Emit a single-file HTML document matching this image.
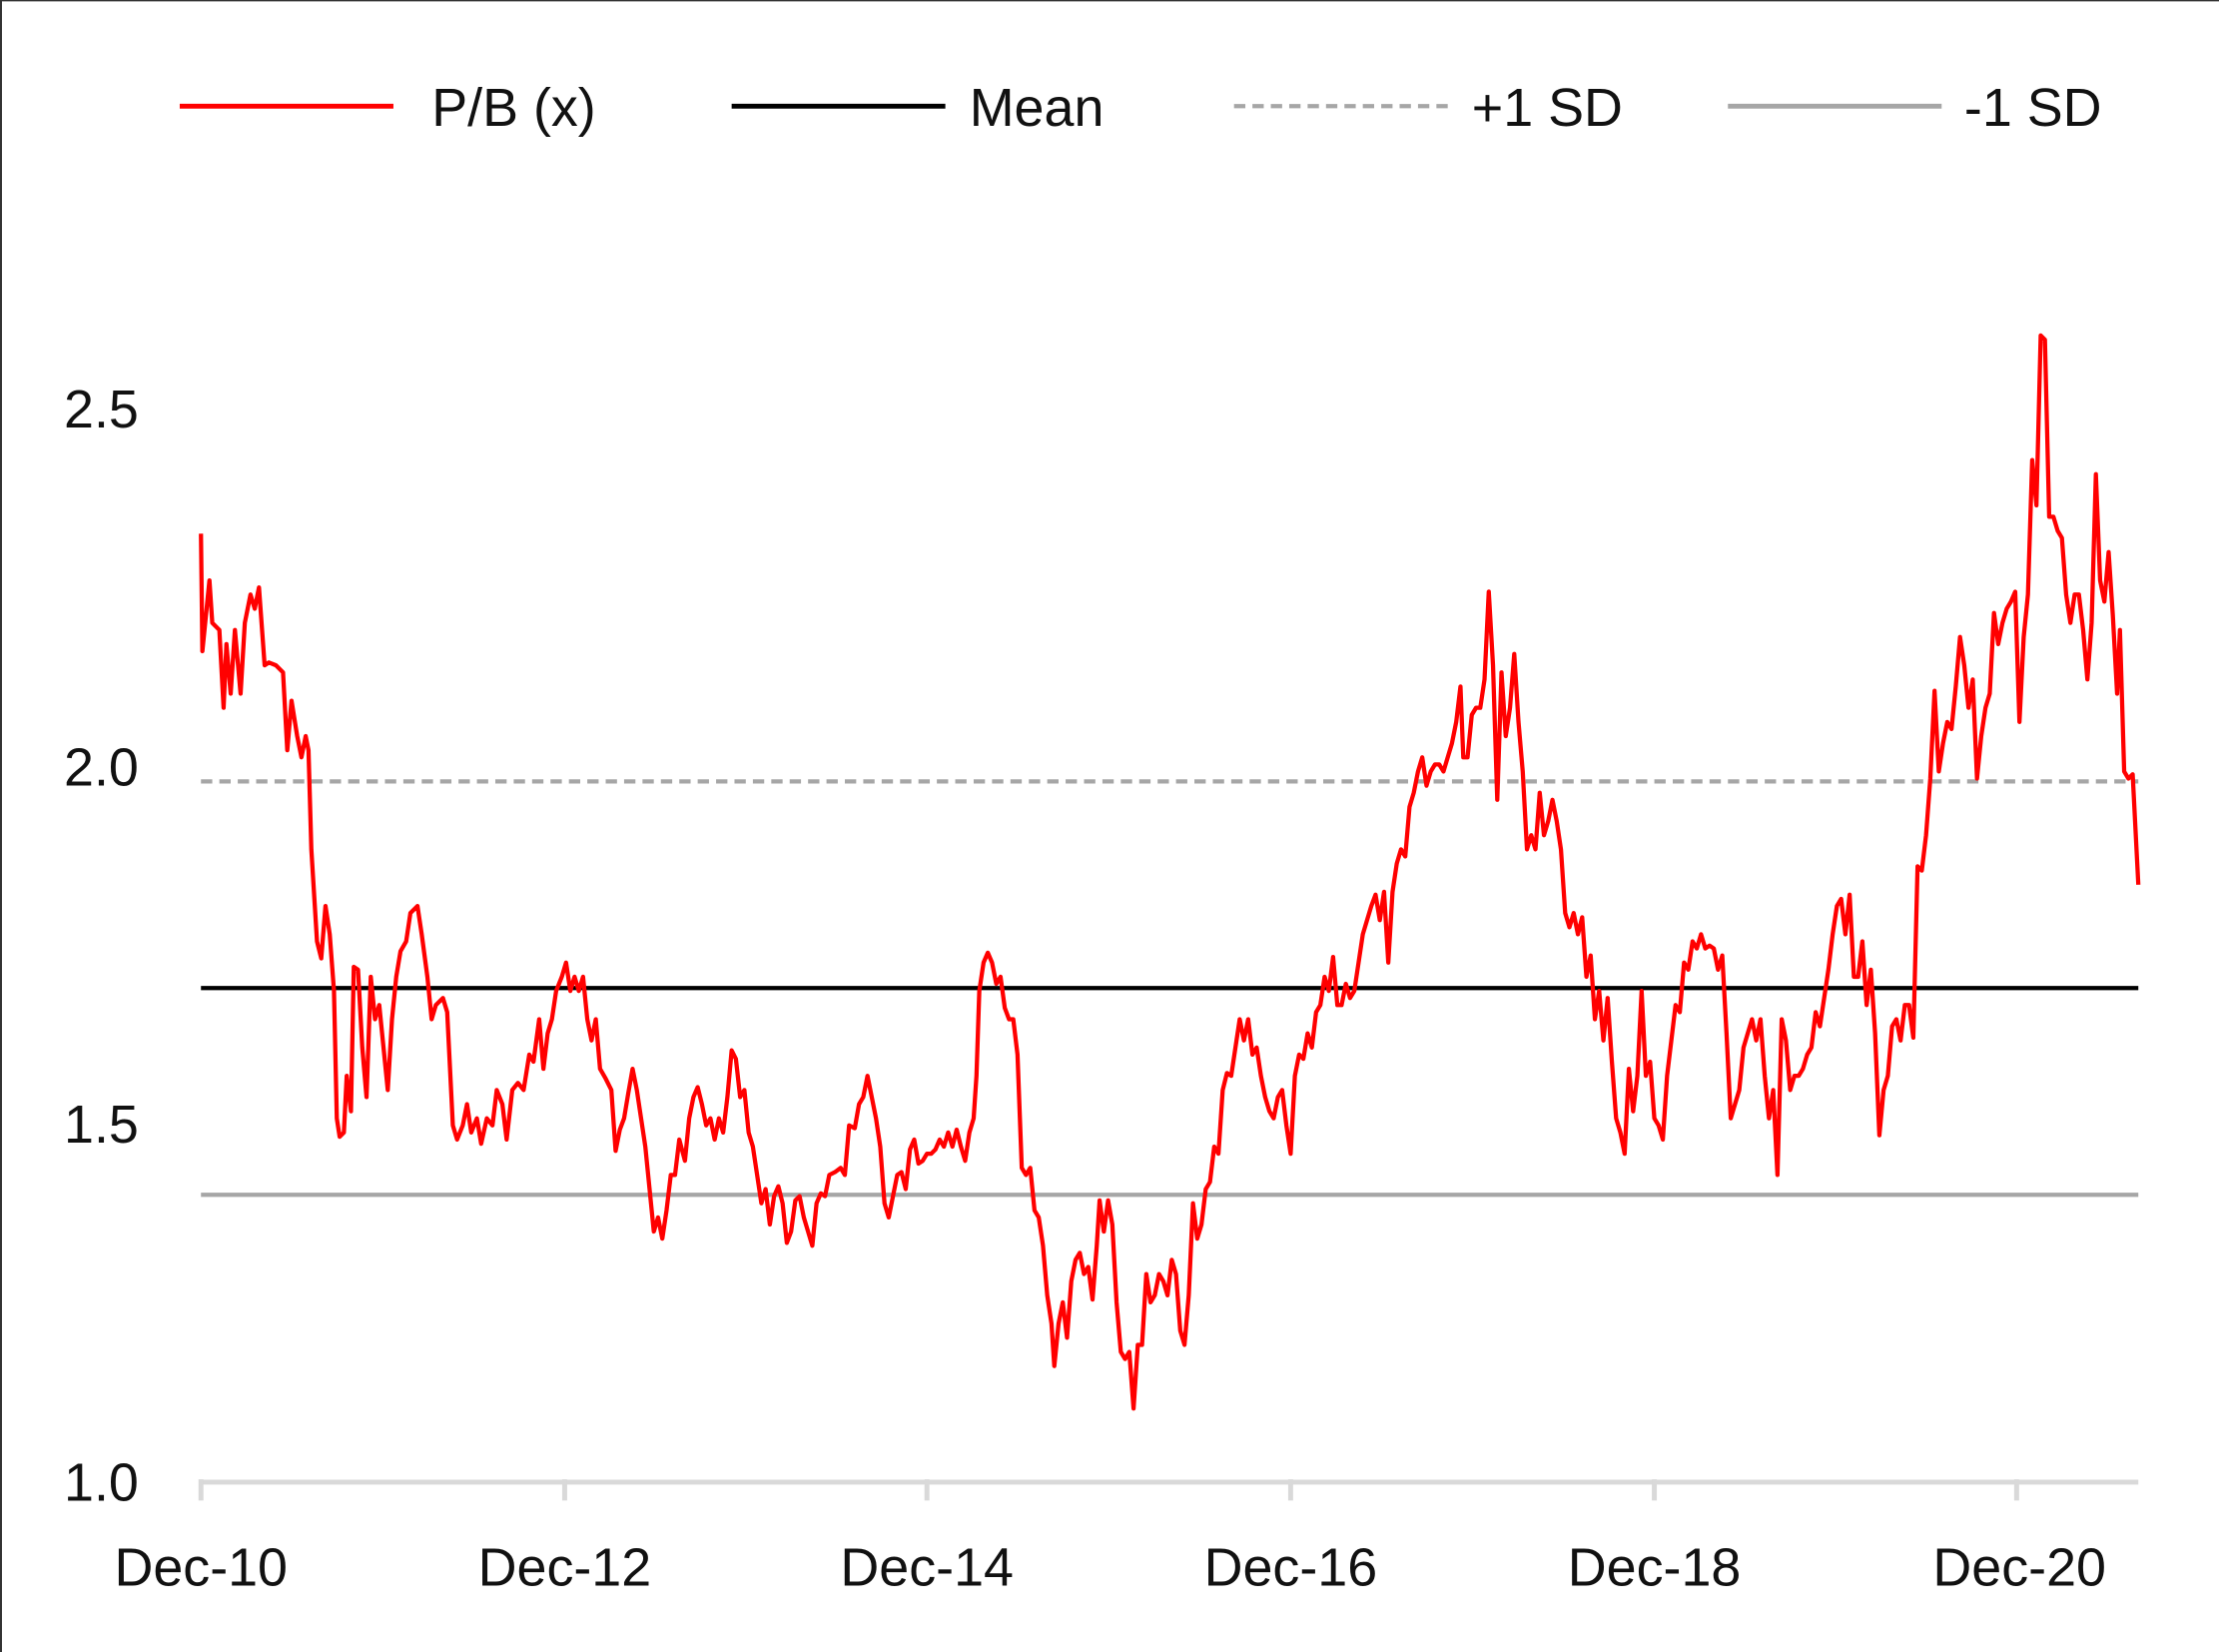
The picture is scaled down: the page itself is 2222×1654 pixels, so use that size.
<!DOCTYPE html>
<html><head><meta charset="utf-8"><style>
html,body{margin:0;padding:0;background:#fff;}
svg{display:block;}
text{font-family:"Liberation Sans",sans-serif;fill:#111;}
</style></head><body>
<svg width="2222" height="1654" viewBox="0 0 1568 1167" preserveAspectRatio="none" xmlns="http://www.w3.org/2000/svg">
<rect x="0" y="0" width="1568" height="1167" fill="#fff"/>
<line x1="0.7" y1="0" x2="0.7" y2="1167" stroke="#333" stroke-width="1.4"/>
<line x1="0" y1="0.5" x2="1568" y2="0.5" stroke="#333" stroke-width="1"/>
<!-- legend -->
<line x1="127" y1="75" x2="278" y2="75" stroke="#f00" stroke-width="3.5"/>
<text x="305" y="89" font-size="38">P/B (x)</text>
<line x1="517" y1="75" x2="668" y2="75" stroke="#000" stroke-width="3.5"/>
<text x="685" y="89" font-size="38">Mean</text>
<line x1="872" y1="75" x2="1023" y2="75" stroke="#a6a6a6" stroke-width="3" stroke-dasharray="8,5"/>
<text x="1040" y="89" font-size="38">+1 SD</text>
<line x1="1221" y1="75" x2="1372" y2="75" stroke="#a6a6a6" stroke-width="3.5"/>
<text x="1388" y="89" font-size="38">-1 SD</text>
<!-- y labels -->
<g font-size="38" text-anchor="end">
<text x="98" y="302">2.5</text>
<text x="98" y="555">2.0</text>
<text x="98" y="807">1.5</text>
<text x="98" y="1060">1.0</text>
</g>
<!-- x axis -->
<line x1="142" y1="1047" x2="1511" y2="1047" stroke="#d9d9d9" stroke-width="3.5"/>
<g stroke="#d9d9d9" stroke-width="3.5">
<line x1="142" y1="1045" x2="142" y2="1060"/>
<line x1="399" y1="1045" x2="399" y2="1060"/>
<line x1="655" y1="1045" x2="655" y2="1060"/>
<line x1="912" y1="1045" x2="912" y2="1060"/>
<line x1="1169" y1="1045" x2="1169" y2="1060"/>
<line x1="1425" y1="1045" x2="1425" y2="1060"/>
</g>
<g font-size="38" text-anchor="middle">
<text x="142" y="1120">Dec-10</text>
<text x="399" y="1120">Dec-12</text>
<text x="655" y="1120">Dec-14</text>
<text x="912" y="1120">Dec-16</text>
<text x="1169" y="1120">Dec-18</text>
<text x="1427" y="1120">Dec-20</text>
</g>
<!-- reference lines -->
<line x1="142" y1="552" x2="1511" y2="552" stroke="#a6a6a6" stroke-width="3" stroke-dasharray="8,5"/>
<line x1="142" y1="844" x2="1511" y2="844" stroke="#a6a6a6" stroke-width="3"/>
<line x1="142" y1="698" x2="1511" y2="698" stroke="#000" stroke-width="3"/>
<!-- series -->
<polyline fill="none" stroke="#f00" stroke-width="3" stroke-linejoin="round" points="142,377 143,460 148,410 150,440 155,445 158,500 160,455 163,490 166,445 170,490 173,440 177,420 180,430 183,415 187,470 190,468 195,470 200,475 203,530 206,495 210,520 213,535 216,520 218,530 220,600 224,665 227,677 230,640 233,660 236,700 238,790 240,803 243,800 245,760 248,785 250,683 253,685 256,740 259,775 262,690 265,720 268,710 271,740 274,770 277,720 280,690 283,672 287,665 290,645 295,640 298,660 302,690 305,720 308,710 313,705 316,715 320,795 323,805 327,795 330,780 333,800 337,790 340,808 344,790 348,795 351,770 355,780 358,805 362,770 366,765 370,770 374,745 377,750 381,720 384,755 387,730 390,720 393,700 397,690 400,680 403,700 406,690 409,700 412,690 415,720 418,735 421,720 424,755 428,762 432,770 435,813 438,798 441,790 444,772 447,755 450,770 453,790 456,810 459,840 462,870 465,860 468,875 471,855 474,830 477,830 480,805 484,820 487,790 490,775 493,768 496,780 499,795 502,790 505,805 508,790 511,800 514,775 517,742 520,748 523,775 526,770 529,800 532,810 535,830 538,850 541,840 544,865 547,845 550,838 553,850 556,878 559,870 562,848 565,845 568,860 571,870 574,880 577,850 580,843 583,845 586,830 590,828 594,825 597,830 600,795 604,797 607,780 610,775 613,760 616,775 619,790 622,810 625,850 628,860 631,845 634,830 637,828 640,840 643,812 646,805 649,822 652,820 655,815 658,815 661,812 664,805 667,810 670,800 673,810 676,798 679,810 682,820 685,800 688,790 690,760 692,700 695,680 698,673 701,680 704,695 707,690 710,712 713,720 716,720 719,745 722,825 725,830 728,825 731,855 734,860 737,880 740,915 743,935 745,965 748,935 751,920 754,945 757,905 760,890 763,885 766,900 769,895 772,918 775,880 777,848 780,870 783,848 786,865 789,920 792,955 795,960 798,955 801,995 804,950 807,950 810,900 813,920 816,915 819,900 822,905 825,915 828,890 831,900 834,940 837,950 840,915 843,850 846,875 849,865 852,840 855,835 858,810 861,815 864,770 867,758 870,760 873,740 876,720 879,735 882,720 885,745 888,740 891,760 894,775 897,785 900,790 903,775 906,770 909,795 912,815 915,760 918,745 921,748 924,730 927,740 930,715 933,710 936,690 939,700 942,676 945,710 948,710 951,695 954,705 957,700 960,680 963,660 966,650 969,640 972,632 975,650 978,630 981,680 984,630 987,610 990,600 993,605 996,570 999,560 1002,545 1005,535 1008,555 1011,545 1014,540 1017,540 1020,545 1023,535 1026,525 1029,510 1032,485 1034,535 1037,535 1040,505 1043,500 1046,500 1049,480 1052,418 1055,470 1058,565 1061,475 1064,520 1067,500 1070,462 1073,510 1076,545 1079,600 1082,590 1085,600 1088,560 1091,590 1094,580 1097,565 1100,580 1103,600 1106,645 1109,655 1112,645 1115,660 1118,648 1121,690 1124,675 1127,720 1130,700 1133,735 1136,705 1139,750 1142,790 1145,800 1148,815 1151,755 1154,785 1157,760 1160,700 1163,760 1166,750 1169,790 1172,795 1175,805 1178,760 1181,735 1184,710 1187,715 1190,680 1193,685 1196,665 1199,670 1202,660 1205,670 1208,668 1211,670 1214,685 1217,675 1220,730 1223,790 1226,780 1229,770 1232,740 1235,730 1238,720 1241,735 1244,720 1247,760 1250,790 1253,770 1256,830 1259,720 1262,735 1265,770 1268,760 1271,760 1274,755 1277,745 1280,740 1283,715 1286,725 1289,705 1292,685 1295,660 1298,640 1301,635 1304,660 1307,632 1310,690 1313,690 1316,665 1319,710 1322,685 1325,730 1328,802 1331,770 1334,760 1337,725 1340,720 1343,735 1346,710 1349,710 1352,733 1355,612 1358,615 1361,590 1364,550 1367,488 1370,545 1373,525 1376,510 1379,515 1382,485 1385,450 1388,470 1391,500 1394,480 1397,550 1400,520 1403,500 1406,490 1409,433 1412,455 1415,440 1418,430 1421,425 1424,418 1427,510 1430,450 1433,420 1436,325 1439,357 1442,237 1445,240 1448,365 1451,365 1454,375 1457,380 1460,420 1463,440 1466,420 1469,420 1472,445 1475,480 1478,440 1481,335 1484,410 1487,425 1490,390 1493,435 1496,490 1498,445 1501,545 1504,550 1507,547 1511,625"/>
</svg>
</body></html>
